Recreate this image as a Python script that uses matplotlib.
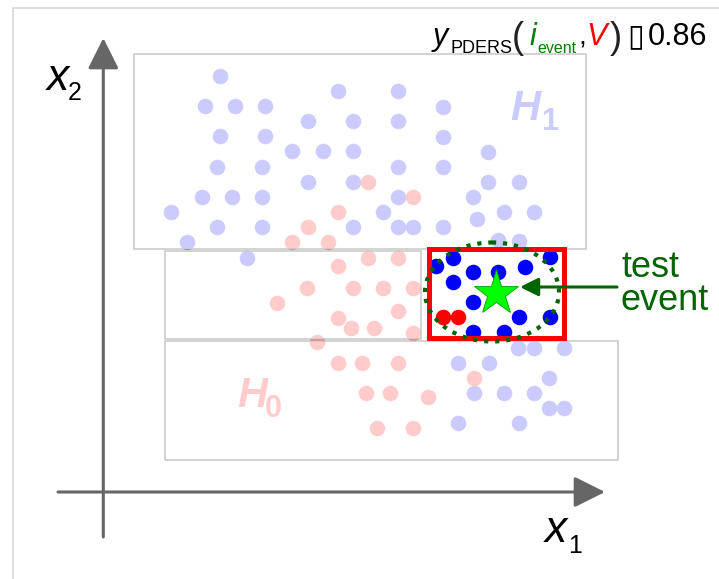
import matplotlib
matplotlib.use('Agg')
import matplotlib.pyplot as plt
from matplotlib.patches import Rectangle, Ellipse

# events of class H1 (blue) and H0 (red) (pixel coords)
blue_x = [220, 205, 235.3, 265.3, 337.7, 398.3, 307.7, 352.7, 398.3, 220.3,
          265.3, 292.3, 322.7, 352.7, 398.3, 217, 262, 307.7, 352.7, 201.7,
          232, 262, 398.3, 171.3, 383.3, 217, 262, 352.7, 398.3, 413.3,
          186.7, 443.3, 443.3, 488.3, 443.3, 488.3, 519.3, 473.3, 504, 534,
          477.3, 443.3, 498, 519.3, 246.7, 518.3, 534, 564, 458.3, 489,
          549.3, 474, 504, 534, 549.3, 564, 458.3, 519,
          436, 452.7, 473.3, 497.7, 525, 550, 452.7, 473.3, 519, 550,
          473.3, 504.2]
blue_y = [75.7, 105.7, 105.7, 105.7, 91, 91, 121, 121, 121, 136,
          136, 151.3, 151.3, 151.3, 166.7, 166.7, 166.7, 181.7, 181.7, 196.7,
          196.7, 196.7, 196.7, 211.7, 211.7, 226.7, 226.7, 226.7, 226.7, 226.7,
          242.3, 106.7, 136.7, 151.7, 166.7, 181.7, 181.7, 196.7, 211.7, 211.7,
          219, 226.7, 240, 241, 257.7, 347.7, 347.7, 347.7, 363.3, 363.3,
          377.7, 393.3, 393.3, 393.3, 408.3, 408.3, 423.3, 423.3,
          265.5, 257.5, 272, 272, 267, 257, 281.7, 302, 317, 317,
          331.7, 331.7]

red_x = [367.7, 413.3, 337.7, 307.7, 292.3, 328.3, 367.7, 397.7, 337.7, 307.3,
         352.7, 382.7, 412.7, 276.7, 397.7, 337.7, 350.7, 374.3, 412.7, 316.7,
         337.7, 361.7, 397.7, 365.7, 390, 428.3, 377.3, 413.3, 474,
         443.3, 458.3]
red_y = [181.7, 196.7, 211.7, 226.7, 242.3, 242.3, 257.7, 257.7, 266, 287.7,
         287.7, 287.7, 287.7, 302.7, 311, 317.7, 328.3, 328.3, 332.7, 341.7,
         362.7, 362.7, 362.7, 393.3, 393.3, 397, 428.3, 428.3, 378.3,
         317.3, 317.3]

test_event = (496, 293)
pders_value = '0.86'

plt.rcParams['font.family'] = ['Liberation Sans', 'DejaVu Sans']

fig = plt.figure(figsize=(7.19, 5.79), dpi=100)
ax = fig.add_axes([0, 0, 1, 1])
ax.set_xlim(0, 719)
ax.set_ylim(579, 0)
ax.axis('off')

# outer frame
ax.plot([12.7, 12.7, 719], [579, 7.5, 7.5], color='#d4d4d4', lw=1.1)

# all events, drawn strong; the boxes wash them out
ax.plot(blue_x, blue_y, 'o', color='#0000ff', ms=11.2, mew=0, zorder=2)
ax.plot(red_x, red_y, 'o', color='#ff0000', ms=11.2, mew=0, zorder=2)

ax.text(510, 120, 'H', fontsize=30, fontweight='bold', style='italic',
        color='#0000ff', zorder=2)
ax.text(541, 130, '1', fontsize=22, fontweight='bold', color='#0000ff', zorder=2)
ax.text(237, 407, 'H', fontsize=30, fontweight='bold', style='italic',
        color='#ff0000', zorder=2)
ax.text(265, 417, '0', fontsize=22, fontweight='bold', color='#ff0000', zorder=2)

# binary search tree volumes
for x0, y0, x1, y1 in [(134.3, 54.3, 586, 249), (165, 251, 421, 339),
                       (165, 341, 618, 460)]:
    ax.add_patch(Rectangle((x0, y0), x1 - x0, y1 - y0, facecolor='white',
                           alpha=0.8, edgecolor='none', zorder=3))
    ax.add_patch(Rectangle((x0, y0), x1 - x0, y1 - y0, fill=False,
                           edgecolor='#c8c8c8', lw=1.1, zorder=3))

# search volume around the test event
ax.add_patch(Rectangle((429, 249), 135, 89, fill=False, edgecolor='#ff0000',
                       lw=3.6, zorder=4))
ax.add_patch(Ellipse((492, 292), 134, 99, fill=False, edgecolor='#006400',
                     lw=3, ls=':', zorder=5))
ax.plot(*test_event, marker='*', color='#00ff00', mec='#00a000', mew=0.6,
        ms=34, zorder=6)

ax.annotate('', xy=(520, 287), xytext=(617, 287), zorder=6,
            arrowprops=dict(arrowstyle='-|>,head_length=1.1,head_width=0.55',
                            color='#006400', lw=2.2, shrinkA=0, shrinkB=0,
                            mutation_scale=10))
ax.text(621, 277, 'test', fontsize=26, color='#006400')
ax.text(621, 310, 'event', fontsize=26, color='#006400')

# axes
arrow = dict(arrowstyle='-|>,head_length=1.9,head_width=0.95', color='#666666',
             lw=2.2, shrinkA=0, shrinkB=0, mutation_scale=10)
ax.annotate('', xy=(103.3, 38), xytext=(103.3, 537), arrowprops=arrow)
ax.annotate('', xy=(605, 492), xytext=(58, 492), arrowprops=arrow)

ax.text(47, 90, 'x', fontsize=32, style='italic')
ax.text(68, 100, '2', fontsize=18)
ax.text(545, 542, 'x', fontsize=32, style='italic')
ax.text(568, 553, '1', fontsize=18)

# PDERS output for the test event
ax.text(433, 45, 'y', fontsize=22, style='italic')
ax.text(450, 53, 'PDERS', fontsize=13)
ax.text(512, 48, '(', fontsize=26, color='#222222')
ax.text(529, 45, 'i', fontsize=22, style='italic', color='#008000')
ax.text(537, 53, 'event', fontsize=11.5, color='#008000')
ax.text(578, 45, ',', fontsize=20)
ax.text(586, 45, 'V', fontsize=22, style='italic', color='#ff0000')
ax.text(610, 48, ')', fontsize=26, color='#222222')
ax.text(627, 45, '\u25af', fontsize=22, family=['DejaVu Sans'])
ax.text(648, 45, pders_value, fontsize=22)

fig.savefig('out.png', dpi=100)
